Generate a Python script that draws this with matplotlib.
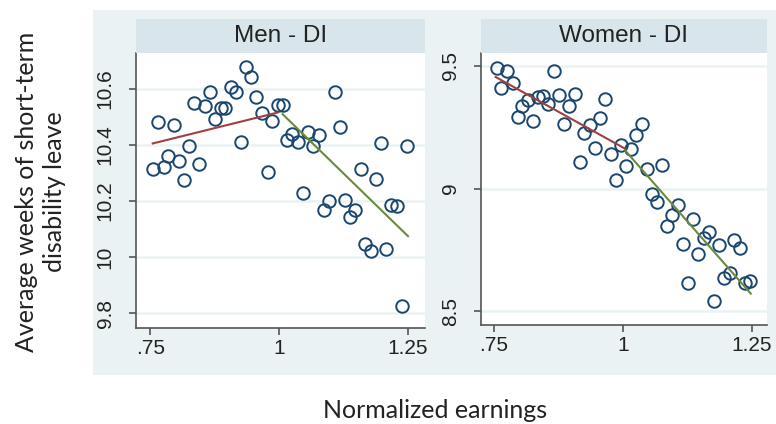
import numpy as np
import matplotlib
matplotlib.use("Agg")
import matplotlib.pyplot as plt
from matplotlib.patches import Rectangle

# binned scatter data
men_x = [0.755, 0.765, 0.776, 0.785, 0.796, 0.806, 0.816, 0.826, 0.836, 0.845,
         0.856, 0.866, 0.876, 0.887, 0.896, 0.906, 0.916, 0.927, 0.936, 0.946,
         0.956, 0.967, 0.978, 0.987, 0.997, 1.007, 1.016, 1.026, 1.036, 1.047,
         1.057, 1.066, 1.077, 1.087, 1.097, 1.108, 1.118, 1.127, 1.137, 1.148,
         1.158, 1.167, 1.178, 1.188, 1.198, 1.208, 1.218, 1.229, 1.239, 1.249]
men_y = [10.315, 10.482, 10.321, 10.360, 10.471, 10.341, 10.274, 10.395, 10.549, 10.332,
         10.538, 10.588, 10.493, 10.531, 10.531, 10.606, 10.588, 10.410, 10.678, 10.643,
         10.570, 10.515, 10.304, 10.485, 10.541, 10.543, 10.417, 10.437, 10.411, 10.230,
         10.446, 10.396, 10.434, 10.168, 10.201, 10.587, 10.465, 10.205, 10.143, 10.167,
         10.315, 10.048, 10.022, 10.277, 10.408, 10.029, 10.186, 10.181, 9.826, 10.396]

women_x = [0.755, 0.764, 0.775, 0.786, 0.796, 0.805, 0.815, 0.826, 0.836, 0.845,
           0.855, 0.866, 0.876, 0.885, 0.896, 0.906, 0.916, 0.925, 0.936, 0.946,
           0.956, 0.966, 0.977, 0.986, 0.996, 1.006, 1.016, 1.026, 1.036, 1.046,
           1.056, 1.066, 1.076, 1.086, 1.096, 1.106, 1.117, 1.126, 1.136, 1.146,
           1.157, 1.166, 1.177, 1.187, 1.196, 1.207, 1.216, 1.227, 1.236, 1.247]
women_y = [9.492, 9.412, 9.480, 9.431, 9.292, 9.336, 9.363, 9.276, 9.374, 9.378,
           9.346, 9.480, 9.382, 9.265, 9.336, 9.386, 9.109, 9.228, 9.258, 9.166,
           9.288, 9.367, 9.140, 9.037, 9.179, 9.091, 9.160, 9.217, 9.262, 9.080,
           8.976, 8.946, 9.095, 8.846, 8.891, 8.933, 8.776, 8.616, 8.876, 8.735,
           8.800, 8.822, 8.542, 8.769, 8.636, 8.656, 8.789, 8.759, 8.616, 8.623]

# fitted lines below / above normalized earnings of 1
men_fit_lo_x, men_fit_lo_y = [0.755, 0.997], [10.405, 10.515]
men_fit_hi_x, men_fit_hi_y = [1.007, 1.250], [10.509, 10.075]
women_fit_lo_x, women_fit_lo_y = [0.753, 1.004], [9.455, 9.163]
women_fit_hi_x, women_fit_hi_y = [1.004, 1.248], [9.156, 8.572]

x_ticks = [0.75, 1.0, 1.25]
x_ticklabels = [".75", "1", "1.25"]
men_yticks = [9.8, 10.0, 10.2, 10.4, 10.6]
men_yticklabels = ["9.8", "10", "10.2", "10.4", "10.6"]
women_yticks = [8.5, 9.0, 9.5]
women_yticklabels = ["8.5", "9", "9.5"]

navy = "#1a476f"
red = "#a0403f"
green = "#6a8a3a"
bg = "#eaf2f3"
strip = "#d8e5ea"
W, H = 776, 424

fig = plt.figure(figsize=(W / 100, H / 100), dpi=100)
fig.patch.set_facecolor("white")
fig.add_artist(Rectangle((93 / W, 1 - 375 / H), (W - 93) / W, 365 / H,
                         transform=fig.transFigure, facecolor=bg, edgecolor="none", zorder=0))


def px_box(l, t, r, b):
    return [l / W, 1 - b / H, (r - l) / W, (b - t) / H]


def panel(box, title, xs, ys, lo, hi, yt, ytl, xlim, ylim):
    ax = fig.add_axes(px_box(*box))
    ax.set_facecolor("white")
    l, t, r, b = box
    fig.add_artist(Rectangle((l / W, 1 - t / H), (r - l) / W, 34 / H,
                             transform=fig.transFigure, facecolor=strip, edgecolor="none"))
    fig.text((l + r) / 2 / W, 1 - (t - 17) / H, title, ha="center", va="center",
             fontsize=17.5, family="Liberation Sans", color="#222222")
    for v in yt:
        ax.axhline(v, color=bg, lw=1.8, zorder=1)
    ax.plot(xs, ys, "o", mfc="none", mec=navy, ms=9, mew=1.4, zorder=3)
    ax.plot(lo[0], lo[1], color=red, lw=1.5, zorder=4)
    ax.plot(hi[0], hi[1], color=green, lw=1.5, zorder=4)
    ax.set_xlim(xlim)
    ax.set_ylim(ylim)
    ax.set_xticks(x_ticks)
    ax.set_xticklabels(x_ticklabels)
    ax.set_yticks(yt)
    ax.set_yticklabels(ytl, rotation=90, va="center")
    for s in ["top", "right"]:
        ax.spines[s].set_visible(False)
    for s in ["left", "bottom"]:
        ax.spines[s].set_color("#555555")
        ax.spines[s].set_linewidth(1.2)
    ax.tick_params(length=5, width=1.2, color="#555555", labelsize=15, pad=3,
                   labelcolor="#222222")
    ax.tick_params(axis="y", pad=10)
    for lab in ax.get_xticklabels() + ax.get_yticklabels():
        lab.set_family("Liberation Sans")
    return ax


panel((135.7, 53.3, 425, 328), "Men - DI", men_x, men_y,
      (men_fit_lo_x, men_fit_lo_y), (men_fit_hi_x, men_fit_hi_y),
      men_yticks, men_yticklabels, (0.722, 1.283), (9.748, 10.726))
panel((480.7, 52.7, 767, 325), "Women - DI", women_x, women_y,
      (women_fit_lo_x, women_fit_lo_y), (women_fit_hi_x, women_fit_hi_y),
      women_yticks, women_yticklabels, (0.724, 1.2795), (8.444, 9.554))

fig.text(27 / W, 1 - 192 / H, "Average weeks of short-term",
         rotation=90, ha="center", va="center", fontsize=18, family="Lato", color="#222222")
fig.text(55 / W, 1 - 192 / H, "disability leave",
         rotation=90, ha="center", va="center", fontsize=18, family="Lato", color="#222222")
fig.text(435 / W, 1 - 410 / H, "Normalized earnings", ha="center", va="center",
         fontsize=18, family="Lato", color="#222222")

fig.savefig("out.png", dpi=100)
